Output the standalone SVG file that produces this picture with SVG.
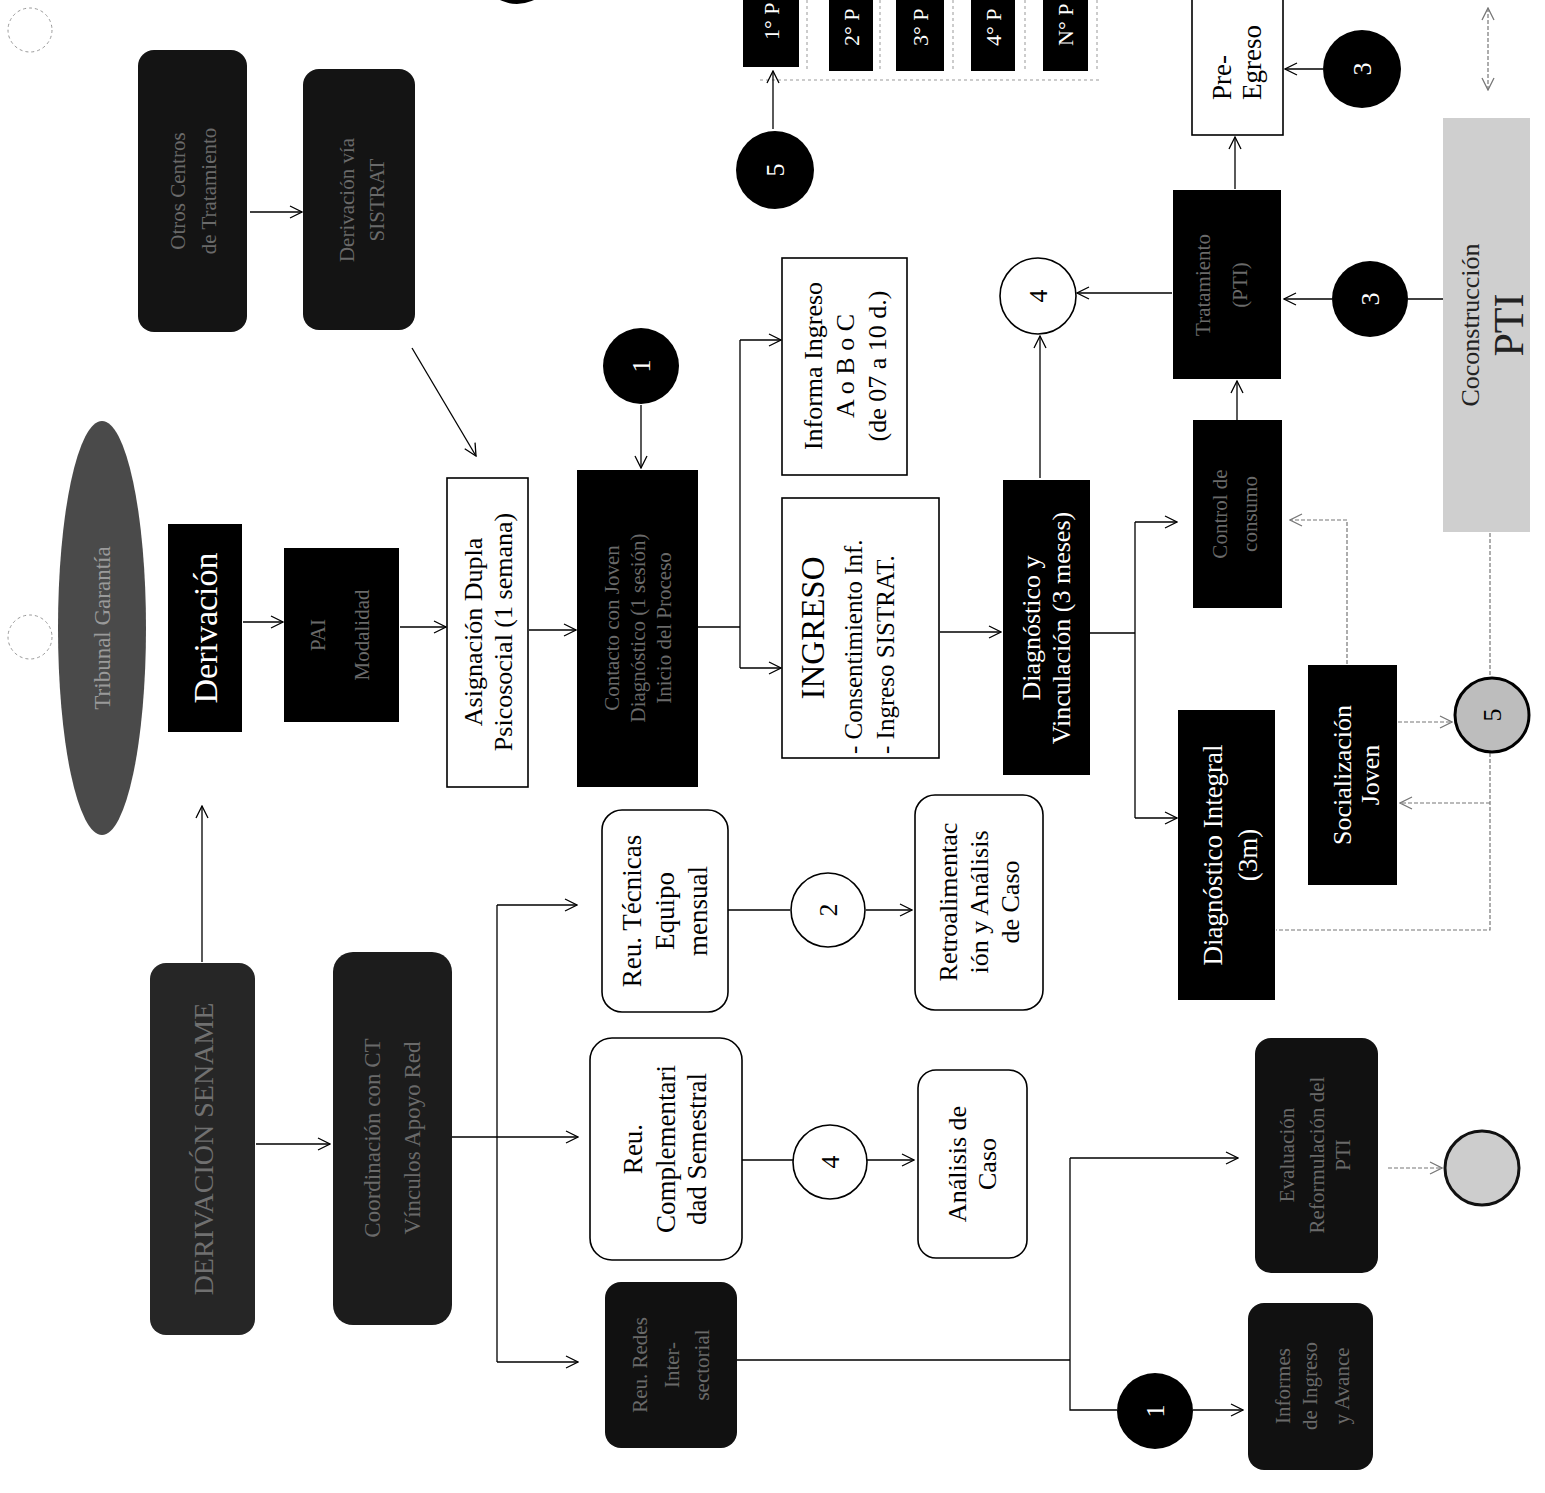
<svg xmlns="http://www.w3.org/2000/svg" width="1545" height="1493" viewBox="0 0 1545 1493">
<defs>
<marker id="arr" viewBox="0 0 14 14" refX="13" refY="7" markerWidth="14" markerHeight="14" markerUnits="userSpaceOnUse" orient="auto"><path d="M1,1 L13,7 L1,13" fill="none" stroke="#000" stroke-width="1.3"/></marker>
<marker id="arrg" viewBox="0 0 14 14" refX="13" refY="7" markerWidth="14" markerHeight="14" markerUnits="userSpaceOnUse" orient="auto"><path d="M1,1 L13,7 L1,13" fill="none" stroke="#777" stroke-width="1.3"/></marker>
<marker id="arrgs" viewBox="0 0 14 14" refX="1" refY="7" markerWidth="14" markerHeight="14" markerUnits="userSpaceOnUse" orient="auto"><path d="M13,1 L1,7 L13,13" fill="none" stroke="#777" stroke-width="1.3"/></marker>
</defs>
<style>
.bw{fill:#fff;stroke:#000;stroke-width:1.6}
.bb{fill:#000}
.bd{fill:#141414}
.t{font-family:"Liberation Serif","Times New Roman",serif;font-size:26px;text-anchor:middle;fill:#000}
.w{fill:#fff}
.dim{fill:#6a6a6a;font-size:21px}
.c{stroke:#000;stroke-width:1.3;fill:none}
.cg{stroke:#777;stroke-width:1.2;fill:none;stroke-dasharray:4 2}
.a{marker-end:url(#arr)}
.ag{marker-end:url(#arrg)}
.cb{fill:#000}
.cw{fill:#fff;stroke:#000;stroke-width:1.6}
.deco{stroke:#999;stroke-width:1;fill:none;stroke-dasharray:3 3}
</style>
<rect width="1545" height="1493" fill="#fff"/>

<!-- decorative faint circles -->
<circle cx="30" cy="30" r="22" class="deco"/>
<circle cx="30" cy="637" r="22" class="deco"/>
<g class="deco"><path d="M807,0 V72 M880,0 V72 M953,0 V72 M1025,0 V72 M1097,0 V72 M760,80 H1100"/></g>

<g id="connectors">
<path class="c a" d="M250,212 H302"/>
<path class="c a" d="M412,348 L476,456"/>
<path class="c a" d="M243,622 H283"/>
<path class="c a" d="M400,627 H446"/>
<path class="c a" d="M529,630 H576"/>
<path class="c a" d="M641,405 V468"/>
<path class="c" d="M698,627 H740 M740,340 V668"/>
<path class="c a" d="M740,340 H781"/>
<path class="c a" d="M740,668 H781"/>
<path class="c a" d="M940,632 H1001"/>
<path class="c a" d="M1040,478 V336"/>
<path class="c" d="M1090,633 H1135 M1135,522 V818"/>
<path class="c a" d="M1135,522 H1177"/>
<path class="c a" d="M1135,818 H1177"/>
<path class="c a" d="M1237,420 V381"/>
<path class="c a" d="M1172,293 H1077"/>
<path class="c a" d="M1235,189 V137"/>
<path class="c a" d="M1323,69 H1285"/>
<path class="c a" d="M1332,299 H1284"/>
<path class="c" d="M1408,299 H1443"/>
<path class="cg ag" d="M1488,8 V90" marker-start="url(#arrgs)"/>
<path class="cg" d="M1490,533 V677"/>
<path class="cg ag" d="M1398,722 H1452"/>
<path class="cg" d="M1490,753 V930 H1276"/>
<path class="cg ag" d="M1490,803 H1400"/>
<path class="cg ag" d="M1347,664 V520 H1290"/>
<path class="c a" d="M202,962 V806"/>
<path class="c a" d="M256,1144 H330"/>
<path class="c" d="M452,1137 H497 M497,905 V1362"/>
<path class="c a" d="M497,905 H577"/>
<path class="c a" d="M497,1137 H578"/>
<path class="c a" d="M497,1362 H578"/>
<path class="c" d="M728,910 H790"/>
<path class="c a" d="M866,910 H912"/>
<path class="c" d="M742,1160 H793"/>
<path class="c a" d="M867,1160 H914"/>
<path class="c" d="M737,1360 H1070 M1070,1158 V1410 H1117"/>
<path class="c a" d="M1070,1158 H1238"/>
<path class="c a" d="M1193,1410 H1243"/>
<path class="cg ag" d="M1388,1168 H1442"/>
<path class="c a" d="M773,129 V71"/>
</g>

<g id="n-otros"><rect class="bd" x="138" y="50" width="109" height="282" rx="16"/>
<g transform="translate(192,191) rotate(-90)"><text class="t dim" y="-7">Otros Centros</text><text class="t dim" y="24">de Tratamiento</text></g></g>

<g id="n-sistrat"><rect class="bd" x="303" y="69" width="112" height="261" rx="16"/>
<g transform="translate(359,200) rotate(-90)"><text class="t dim" y="-5">Derivación vía</text><text class="t dim" y="25">SISTRAT</text></g></g>

<g id="n-tribunal"><ellipse cx="102" cy="628" rx="44" ry="207" fill="#4a4a4a"/>
<g transform="translate(102,628) rotate(-90)"><text class="t" y="8" style="fill:#9a9a9a;font-size:23px">Tribunal Garantía</text></g></g>

<g id="n-derivacion"><rect class="bb" x="168" y="524" width="74" height="208"/>
<g transform="translate(205,628) rotate(-90)"><text class="t w" y="12" style="font-size:34px">Derivación</text></g></g>

<g id="n-pai"><rect class="bb" x="284" y="548" width="115" height="174"/>
<g transform="translate(341,635) rotate(-90)"><text class="t dim" y="-16">PAI</text><text class="t dim" y="28">Modalidad</text></g></g>

<g id="n-asignacion"><rect class="bw" x="447" y="478" width="81" height="309"/>
<g transform="translate(487,632) rotate(-90)"><text class="t" y="-5">Asignación Dupla</text><text class="t" y="25">Psicosocial (1 semana)</text></g></g>

<g id="n-contacto"><rect class="bb" x="577" y="470" width="121" height="317"/>
<g transform="translate(637,628) rotate(-90)"><text class="t dim" y="-18">Contacto con Joven</text><text class="t dim" y="8">Diagnóstico (1 sesión)</text><text class="t dim" y="34">Inicio del Proceso</text></g></g>

<g id="c-1a"><circle class="cb" cx="641" cy="366" r="38"/>
<g transform="translate(641,366) rotate(-90)"><text class="t w" y="9">1</text></g></g>

<g id="n-informa"><rect class="bw" x="782" y="258" width="125" height="217"/>
<g transform="translate(845,366) rotate(-90)"><text class="t" y="-23">Informa Ingreso</text><text class="t" y="9">A o B o C</text><text class="t" y="41">(de 07 a 10 d.)</text></g></g>

<g id="n-ingreso"><rect class="bw" x="782" y="498" width="157" height="260"/>
<g transform="translate(860,628) rotate(-90)"><text class="t" y="-36" style="font-size:33px">INGRESO</text><text class="t" x="-126" y="2" style="text-anchor:start;font-size:25px">- Consentimiento Inf.</text><text class="t" x="-126" y="34" style="text-anchor:start;font-size:25px">- Ingreso SISTRAT.</text></g></g>

<g id="n-diagvinc"><rect class="bb" x="1003" y="480" width="87" height="295"/>
<g transform="translate(1046,628) rotate(-90)"><text class="t w" y="-6">Diagnóstico y</text><text class="t w" y="24">Vinculación (3 meses)</text></g></g>

<g id="c-4a"><circle class="cw" cx="1038" cy="296" r="38"/>
<g transform="translate(1038,296) rotate(-90)"><text class="t" y="9">4</text></g></g>

<g id="n-cuidados"><rect class="bb" x="1193" y="420" width="89" height="188"/>
<g transform="translate(1237,514) rotate(-90)"><text class="t dim" y="-10">Control de</text><text class="t dim" y="20">consumo</text></g></g>

<g id="n-tratamiento"><rect class="bb" x="1173" y="190" width="108" height="189"/>
<g transform="translate(1227,285) rotate(-90)"><text class="t dim" y="-17">Tratamiento</text><text class="t dim" y="20">(PTI)</text></g></g>

<g id="n-preegreso"><rect class="bw" x="1192" y="-2" width="91" height="137"/>
<g transform="translate(1237,100) rotate(-90)"><text class="t" x="0" y="-6" style="text-anchor:start;font-size:27px">Pre-</text><text class="t" x="0" y="24" style="text-anchor:start;font-size:27px">Egreso</text></g></g>

<g id="c-3a"><circle class="cb" cx="1362" cy="69" r="39"/>
<g transform="translate(1362,69) rotate(-90)"><text class="t w" y="9">3</text></g></g>

<g id="c-3b"><circle class="cb" cx="1370" cy="299" r="38"/>
<g transform="translate(1370,299) rotate(-90)"><text class="t w" y="9">3</text></g></g>

<g id="n-coconstruccion"><rect x="1443" y="118" width="87" height="414" fill="#cfcfcf"/>
<g transform="translate(1487,325) rotate(-90)"><text class="t" y="-8" style="fill:#222">Coconstrucción</text><text class="t" y="36" style="fill:#222;font-size:42px">PTI</text></g></g>

<g id="c-5r"><circle cx="1492" cy="715" r="37" fill="#bdbdbd" stroke="#000" stroke-width="3"/>
<g transform="translate(1492,715) rotate(-90)"><text class="t" y="9">5</text></g></g>

<g id="n-socializacion"><rect class="bb" x="1308" y="665" width="89" height="220"/>
<g transform="translate(1352,775) rotate(-90)"><text class="t w" y="-1">Socialización</text><text class="t w" y="27">Joven</text></g></g>

<g id="n-diagintegral"><rect class="bb" x="1178" y="710" width="97" height="290"/>
<g transform="translate(1226,855) rotate(-90)"><text class="t w" y="-4" style="font-size:27px">Diagnóstico Integral</text><text class="t w" y="31" style="font-size:27px">(3m)</text></g></g>

<g id="n-plans">
<rect class="bb" x="743" y="-2" width="56" height="69"/><g transform="translate(771,0) rotate(-90)"><text class="t w" x="-40" y="8" style="text-anchor:start;font-size:22px">1° P</text></g>
<rect class="bb" x="829" y="-2" width="44" height="73"/><g transform="translate(851,0) rotate(-90)"><text class="t w" x="-46" y="8" style="text-anchor:start;font-size:22px">2° P</text></g>
<rect class="bb" x="896" y="-2" width="48" height="73"/><g transform="translate(920,0) rotate(-90)"><text class="t w" x="-46" y="8" style="text-anchor:start;font-size:22px">3° P</text></g>
<rect class="bb" x="971" y="-2" width="44" height="73"/><g transform="translate(993,0) rotate(-90)"><text class="t w" x="-46" y="8" style="text-anchor:start;font-size:22px">4° P</text></g>
<rect class="bb" x="1043" y="-2" width="45" height="73"/><g transform="translate(1065,0) rotate(-90)"><text class="t w" x="-46" y="8" style="text-anchor:start;font-size:22px">N° P</text></g>
</g>

<g id="c-5t"><circle class="cb" cx="775" cy="170" r="39"/>
<g transform="translate(775,170) rotate(-90)"><text class="t w" y="9">5</text></g></g>

<g id="c-top"><circle class="cb" cx="517" cy="-34" r="38"/></g>

<g id="n-sename"><rect x="150" y="963" width="105" height="372" rx="16" fill="#262626"/>
<g transform="translate(203,1149) rotate(-90)"><text class="t" y="10" style="fill:#707070;font-size:28px">DERIVACIÓN SENAME</text></g></g>

<g id="n-coordinacion"><rect x="333" y="952" width="119" height="373" rx="20" fill="#1c1c1c"/>
<g transform="translate(393,1138) rotate(-90)"><text class="t dim" y="-13" style="font-size:23px">Coordinación con CT</text><text class="t dim" y="27" style="font-size:23px">Vínculos Apoyo Red</text></g></g>

<g id="n-reutec"><rect class="bw" x="602" y="810" width="126" height="202" rx="20"/>
<g transform="translate(665,911) rotate(-90)"><text class="t" y="-24" style="font-size:27px">Reu. Técnicas</text><text class="t" y="9" style="font-size:27px">Equipo</text><text class="t" y="42" style="font-size:27px">mensual</text></g></g>

<g id="c-2"><circle class="cw" cx="828" cy="910" r="37"/>
<g transform="translate(828,910) rotate(-90)"><text class="t" y="9">2</text></g></g>

<g id="n-retro"><rect class="bw" x="915" y="795" width="128" height="215" rx="20"/>
<g transform="translate(979,902) rotate(-90)"><text class="t" y="-22">Retroalimentac</text><text class="t" y="9">ión y Análisis</text><text class="t" y="40">de Caso</text></g></g>

<g id="n-reucomp"><rect class="bw" x="590" y="1038" width="152" height="222" rx="22"/>
<g transform="translate(666,1149) rotate(-90)"><text class="t" y="-24" style="font-size:27px">Reu.</text><text class="t" y="9" style="font-size:27px">Complementari</text><text class="t" y="40" style="font-size:27px">dad Semestral</text></g></g>

<g id="c-4b"><circle class="cw" cx="830" cy="1162" r="37"/>
<g transform="translate(830,1162) rotate(-90)"><text class="t" y="9">4</text></g></g>

<g id="n-analisis"><rect class="bw" x="918" y="1070" width="109" height="188" rx="18"/>
<g transform="translate(972,1164) rotate(-90)"><text class="t" y="-6">Análisis de</text><text class="t" y="24">Caso</text></g></g>

<g id="n-redes"><rect x="605" y="1282" width="132" height="166" rx="16" fill="#111"/>
<g transform="translate(671,1365) rotate(-90)"><text class="t dim" y="-24">Reu. Redes</text><text class="t dim" y="8">Inter-</text><text class="t dim" y="38">sectorial</text></g></g>

<g id="n-evaluacion"><rect x="1255" y="1038" width="123" height="235" rx="16" fill="#111"/>
<g transform="translate(1316,1155) rotate(-90)"><text class="t dim" y="-22">Evaluación</text><text class="t dim" y="8">Reformulación del</text><text class="t dim" y="34">PTI</text></g></g>

<g id="c-gray"><circle cx="1482" cy="1168" r="37" fill="#cdcdcd" stroke="#111" stroke-width="3"/></g>

<g id="c-1b"><circle class="cb" cx="1155" cy="1411" r="38"/>
<g transform="translate(1155,1411) rotate(-90)"><text class="t w" y="9">1</text></g></g>

<g id="n-informes"><rect x="1248" y="1303" width="125" height="167" rx="16" fill="#111"/>
<g transform="translate(1310,1386) rotate(-90)"><text class="t dim" y="-20">Informes</text><text class="t dim" y="7">de Ingreso</text><text class="t dim" y="39">y Avance</text></g></g>
</svg>
